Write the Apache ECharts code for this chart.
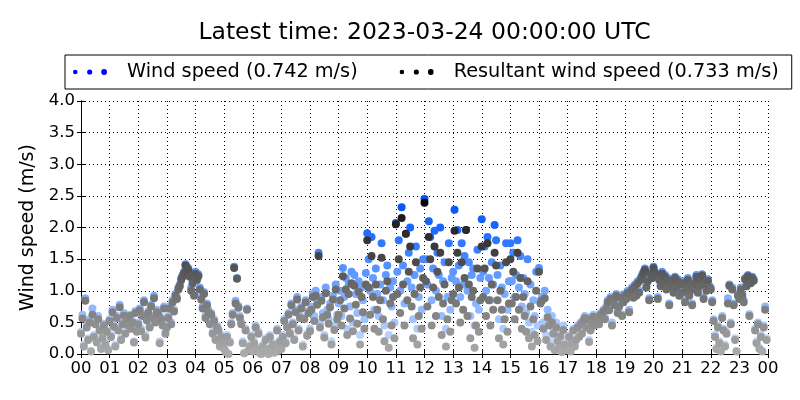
<!DOCTYPE html>
<html>
<head>
<meta charset="utf-8">
<script src="https://cdn.jsdelivr.net/npm/echarts@6/dist/echarts.min.js"></script>
<style>html,body{margin:0;padding:0;background:#fff;}#chart{width:800px;height:400px;}</style>
</head>
<body>
<div id="chart"></div>
<script>
const titleText = 'Latest time: 2023-03-24 00:00:00 UTC';
const seriesNames = ['Wind speed (0.742 m/s)', 'Resultant wind speed (0.733 m/s)'];
const hourLabels = ['00','01','02','03','04','05','06','07','08','09','10','11','12','13','14','15','16','17','18','19','20','21','22','23','00'];
const stepMinutes = 3;

const windSpeed = [
  .35,.62,.15,.88,.45,.25,.55,.05,.72,.30,.50,.20,.60,.40,.10,.28,.48,.18,.38,.08,
  .55,.30,.70,.45,.15,.60,.40,.78,.25,.50,.65,.35,.58,.48,.62,.42,.52,.20,.68,.38,
  .50,.72,.40,.62,.85,.30,.55,.68,.45,.78,.60,.92,.52,.70,.65,.20,.58,.48,.75,.35,
  .45,.60,.75,.50,.85,.70,.95,.90,1.05,1.10,1.20,1.25,1.30,1.42,1.38,1.35,1.25,1.05,1.15,.95,
  1.30,1.20,1.26,1.05,.90,.75,.98,.60,.80,.70,.50,.65,.35,.55,.25,.45,.40,.15,.30,.20,
  .10,.05,.30,.00,.20,.50,.65,1.38,.84,1.20,.76,.60,.50,.20,.02,.40,.72,.08,.15,.30,
  .05,.20,.45,.10,.35,.02,.00,.15,.05,.25,.10,.00,.30,.08,.18,.03,.12,.40,.06,.22,
  .10,.30,.55,.20,.45,.65,.35,.80,.50,.25,.70,.90,.40,.60,.75,.15,.58,.85,.32,.68,
  .40,.75,.95,.60,1.00,.85,1.60,.50,.90,.65,.30,1.05,.70,.55,.80,.20,.92,.45,1.10,.62,
  .80,1.00,.60,1.36,.90,1.20,.40,1.10,.75,1.30,.50,1.25,.95,.65,1.15,.30,1.05,.85,.55,1.28,
  1.91,1.50,1.00,1.85,1.20,.70,1.35,.95,.60,1.10,1.75,.85,.45,1.25,1.40,.30,1.05,.75,1.15,.50,
  2.07,1.30,1.80,1.00,2.32,1.40,.80,1.90,1.15,1.60,2.00,1.05,.55,1.25,1.70,.40,.90,1.35,.70,1.50,
  2.45,1.50,1.10,2.10,1.85,.85,1.35,1.95,1.00,1.60,1.25,2.00,.60,1.15,1.45,.40,.90,1.75,.70,1.20,
  1.30,2.28,1.15,1.96,1.40,.90,1.75,1.10,1.55,1.96,1.00,1.45,.60,1.25,1.35,.45,.80,1.65,.70,1.20,
  2.13,1.30,1.70,1.00,1.85,1.20,.85,1.45,1.10,2.04,1.80,1.25,.55,1.40,1.05,.40,.95,1.75,.70,1.15,
  1.75,1.15,1.60,.90,1.25,1.80,1.05,1.55,.75,1.20,.95,.65,1.50,.50,1.10,.35,.85,.60,1.30,.45,
  1.36,.85,.90,.50,1.00,.30,.70,.55,.20,.60,.40,.10,.50,.25,.15,.35,.05,.45,.20,.10,
  .10,.30,.05,.20,.40,.15,.25,.45,.30,.50,.35,.55,.60,.45,.58,.22,.40,.52,.62,.48,
  .55,.60,.50,.65,.62,.70,.58,.75,.85,.72,.90,.50,.88,.80,.95,.68,.78,.92,.63,.85,
  .95,.90,1.00,.70,.98,1.05,.92,1.10,.95,1.15,1.00,1.20,1.25,1.30,1.35,1.08,1.18,.88,1.28,1.22,
  1.38,1.30,1.25,.90,1.20,1.10,1.30,1.15,1.25,1.05,1.20,.80,1.10,1.15,1.00,1.22,1.08,1.18,.95,1.12,
  1.00,1.15,.85,1.05,1.20,.95,1.10,.80,1.05,1.15,1.25,1.00,1.10,1.20,1.26,.90,1.12,1.02,1.18,1.08,
  1.05,.85,.55,.30,.10,.45,.20,.05,.60,.40,.15,.35,.88,1.10,.50,1.05,.80,.25,.05,.95,
  .90,1.05,.95,.85,1.20,1.10,1.25,.63,1.15,1.22,1.18,.40,.20,.50,.10,.30,.05,.45,.75,.25
];

const resultantSpeed = [
  .32,.56,.12,.84,.42,.22,.50,.04,.62,.27,.47,.18,.55,.37,.08,.25,.45,.15,.35,.06,
  .52,.27,.66,.43,.12,.57,.37,.74,.22,.47,.61,.32,.55,.45,.60,.40,.50,.18,.65,.35,
  .47,.69,.36,.60,.82,.26,.53,.65,.42,.75,.57,.88,.50,.66,.62,.17,.55,.45,.72,.32,
  .42,.57,.72,.47,.82,.67,.92,.87,1.02,1.07,1.17,1.22,1.28,1.40,1.36,1.33,1.22,1.00,1.12,.92,
  1.27,1.17,1.23,1.02,.86,.72,.95,.57,.77,.66,.47,.62,.32,.52,.22,.42,.37,.12,.27,.17,
  .08,.03,.27,.00,.18,.47,.62,1.36,.80,1.19,.73,.57,.47,.17,.01,.37,.70,.05,.12,.27,
  .04,.17,.42,.08,.32,.01,.00,.12,.04,.22,.08,.00,.27,.06,.15,.02,.10,.37,.05,.19,
  .08,.27,.52,.17,.42,.62,.32,.77,.47,.22,.66,.86,.37,.57,.72,.12,.55,.82,.29,.65,
  .36,.70,.90,.52,.92,.78,1.55,.42,.84,.58,.26,.96,.62,.48,.74,.15,.86,.38,1.02,.55,
  .62,.85,.45,1.23,.72,1.02,.30,.95,.56,1.12,.36,1.08,.78,.48,.98,.15,.90,.66,.40,1.10,
  1.80,1.05,.62,1.55,.90,.40,1.10,.70,.35,.85,1.52,.55,.20,1.00,1.15,.10,.80,.45,.90,.25,
  2.05,.95,1.50,.65,2.15,1.10,.45,1.90,.85,1.30,1.70,.75,.25,.95,1.45,.15,.60,1.05,.40,1.20,
  2.39,1.15,.75,1.85,1.50,.45,1.05,1.70,.60,1.30,.90,1.60,.30,.80,1.10,.12,.55,1.45,.35,.85,
  .95,1.95,.80,1.60,1.05,.50,1.45,.70,1.20,1.96,.60,1.10,.25,.90,1.00,.10,.45,1.35,.35,.85,
  1.70,.90,1.35,.60,1.75,.85,.45,1.10,.70,1.60,1.40,.85,.25,1.00,.70,.15,.55,1.45,.35,.80,
  1.50,.80,1.30,.55,.90,1.60,.70,1.20,.40,.90,.60,.35,1.15,.25,.75,.12,.55,.30,1.00,.20,
  1.30,.80,.84,.40,.88,.22,.58,.45,.12,.50,.32,.06,.42,.20,.10,.28,.03,.38,.15,.06,
  .08,.27,.04,.17,.37,.12,.22,.42,.27,.47,.32,.52,.57,.42,.55,.19,.37,.49,.59,.45,
  .52,.57,.47,.62,.60,.67,.55,.72,.82,.69,.87,.45,.85,.77,.92,.65,.75,.89,.60,.82,
  .92,.87,.97,.66,.95,1.02,.89,1.07,.92,1.12,.97,1.17,1.22,1.28,1.33,1.05,1.15,.85,1.26,1.20,
  1.36,1.28,1.22,.87,1.17,1.07,1.27,1.12,1.22,1.02,1.17,.77,1.07,1.12,.97,1.20,1.05,1.15,.92,1.10,
  .97,1.12,.82,1.02,1.17,.92,1.07,.77,1.02,1.12,1.22,.97,1.07,1.17,1.24,.87,1.10,1.00,1.16,1.05,
  1.02,.82,.52,.27,.08,.42,.17,.04,.57,.37,.12,.32,.80,1.08,.47,1.02,.77,.22,.04,.92,
  .87,1.02,.92,.82,1.18,1.07,1.23,.60,1.12,1.20,1.16,.37,.17,.47,.08,.27,.04,.42,.70,.22
];

function toPoints(arr) { return arr.map((v, i) => [i * stepMinutes / 60, v]); }

const font = 'DejaVu Sans';
const titleSize = 23.5;
const gridLeft = 81, gridRight = 32;
// centre the title over the plot area (as the original does)
const measureCtx = document.createElement('canvas').getContext('2d');
measureCtx.font = titleSize + 'px "' + font + '"';
const titleWidth = measureCtx.measureText(titleText).width;
const plotCentre = gridLeft + (800 - gridLeft - gridRight) / 2;

const dotsIcon = 'path://M0.8,5a2.2,2.2 0 1,0 4.4,0a2.2,2.2 0 1,0 -4.4,0Z M14.5,5a2.5,2.5 0 1,0 5,0a2.5,2.5 0 1,0 -5,0Z M28.2,5a2.8,2.8 0 1,0 5.6,0a2.8,2.8 0 1,0 -5.6,0Z';

const chart = echarts.init(document.getElementById('chart'), null, {renderer: 'canvas'});
const gridLine = {show: true, lineStyle: {color: '#000', width: 1, type: [1, 3]}};
chart.setOption({
  animation: false,
  backgroundColor: '#fff',
  title: {
    text: titleText, left: plotCentre - titleWidth / 2, top: 21, padding: 0,
    textStyle: {fontFamily: font, fontSize: titleSize, fontWeight: 'normal', color: '#000'}
  },
  legend: {
    left: 65, top: 55,
    padding: [7, 13, 7, 8],
    itemGap: 42, itemWidth: 34, itemHeight: 10,
    borderColor: '#000', borderWidth: 1, borderRadius: 0,
    icon: dotsIcon,
    data: [
      {name: seriesNames[0], itemStyle: {color: '#0000ff', opacity: 1}},
      {name: seriesNames[1], itemStyle: {color: '#000000', opacity: 1}}
    ],
    textStyle: {fontFamily: font, fontSize: 19.3, color: '#000', lineHeight: 20, padding: [0, 0, 0, 15]}
  },
  grid: {left: gridLeft, right: gridRight, top: 101, bottom: 46, containLabel: false},
  xAxis: [{
    type: 'value', min: 0, max: 24, interval: 1,
    axisLine: {show: true, lineStyle: {color: '#000', width: 1}},
    axisTick: {show: true, inside: true, length: 4, lineStyle: {color: '#000'}},
    axisLabel: {fontFamily: font, fontSize: 16.5, color: '#000', margin: 6, formatter: v => hourLabels[Math.round(v)]},
    splitLine: gridLine
  }, {
    type: 'value', min: 0, max: 24, interval: 1, position: 'top',
    axisLine: {show: true, lineStyle: {color: '#000', width: 1}},
    axisTick: {show: true, inside: true, length: 4, lineStyle: {color: '#000'}},
    axisLabel: {show: false}, splitLine: {show: false}
  }],
  yAxis: [{
    type: 'value', min: 0, max: 4, interval: 0.5,
    name: 'Wind speed (m/s)', nameLocation: 'middle', nameGap: 40,
    nameTextStyle: {fontFamily: font, fontSize: 19, color: '#000'},
    axisLine: {show: true, lineStyle: {color: '#000', width: 1}},
    axisTick: {show: true, inside: true, length: 4, lineStyle: {color: '#000'}},
    axisLabel: {fontFamily: font, fontSize: 16.5, color: '#000', margin: 6, formatter: v => v.toFixed(1)},
    splitLine: gridLine
  }, {
    type: 'value', min: 0, max: 4, interval: 0.5, position: 'right',
    axisLine: {show: true, lineStyle: {color: '#000', width: 1}},
    axisTick: {show: true, inside: true, length: 4, lineStyle: {color: '#000'}},
    axisLabel: {show: false}, splitLine: {show: false}
  }],
  visualMap: [{
    show: false, type: 'continuous', seriesIndex: 0, dimension: 1, min: 0, max: 2.5,
    inRange: {color: ['#cfe0ff', '#a6c6ff', '#76a8ff', '#4a8aff', '#1a66ff', '#0050f0']}
  }, {
    show: false, type: 'continuous', seriesIndex: 1, dimension: 1, min: 0, max: 2.5,
    inRange: {color: ['#ababab', '#8c8c8c', '#6c6c6c', '#484848', '#262626', '#000000']}
  }],
  series: [{
    name: seriesNames[0], type: 'scatter', symbolSize: 8, silent: true,
    itemStyle: {color: '#0000ff', opacity: 1},
    data: toPoints(windSpeed)
  }, {
    name: seriesNames[1], type: 'scatter', symbolSize: 8, silent: true,
    itemStyle: {color: '#000000', opacity: 1},
    data: toPoints(resultantSpeed)
  }]
});
</script>
</body>
</html>
